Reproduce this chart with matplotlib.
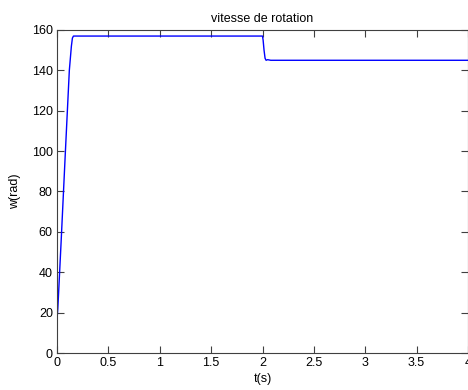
import matplotlib
matplotlib.use("Agg")
import matplotlib.pyplot as plt

# vitesse de rotation
t = [0, 0.002, 0.008, 0.04, 0.08, 0.12, 0.14, 0.15, 0.16, 0.17,
     2.0, 2.006, 2.015, 2.025, 2.035, 2.05, 2.08, 4.0]
w = [0, 18, 22, 55, 98, 140, 152, 156, 157, 157,
     157, 155, 150, 146, 145, 145.3, 145, 145]

xticks = [0, 0.5, 1, 1.5, 2, 2.5, 3, 3.5, 4]
xticklabels = ["0", "0.5", "1", "1.5", "2", "2.5", "3", "3.5", "4"]
yticks = [0, 20, 40, 60, 80, 100, 120, 140, 160]

plt.rcParams['font.family'] = ['Liberation Sans', 'DejaVu Sans']

fig = plt.figure(figsize=(4.68, 3.90), dpi=100)
ax = fig.add_axes([57/468, 37/390, 411/468, 323/390])

ax.plot(t, w, color='#0000ff', lw=1.0)

ax.set_xlim(0, 4)
ax.set_ylim(0, 160)
ax.set_xticks(xticks)
ax.set_xticklabels(xticklabels)
ax.set_yticks(yticks)
ax.tick_params(direction='in', length=5, width=0.8, color='#404040',
               labelsize=9, top=True, right=True, pad=3)
for s in ax.spines.values():
    s.set_color('#404040')
    s.set_linewidth(0.8)

ax.set_title("vitesse de rotation", fontsize=9, pad=6)
ax.set_xlabel("t(s)", fontsize=9, labelpad=3)
ax.set_ylabel("w(rad)", fontsize=9, labelpad=8)

fig.savefig("out.png", dpi=100)
